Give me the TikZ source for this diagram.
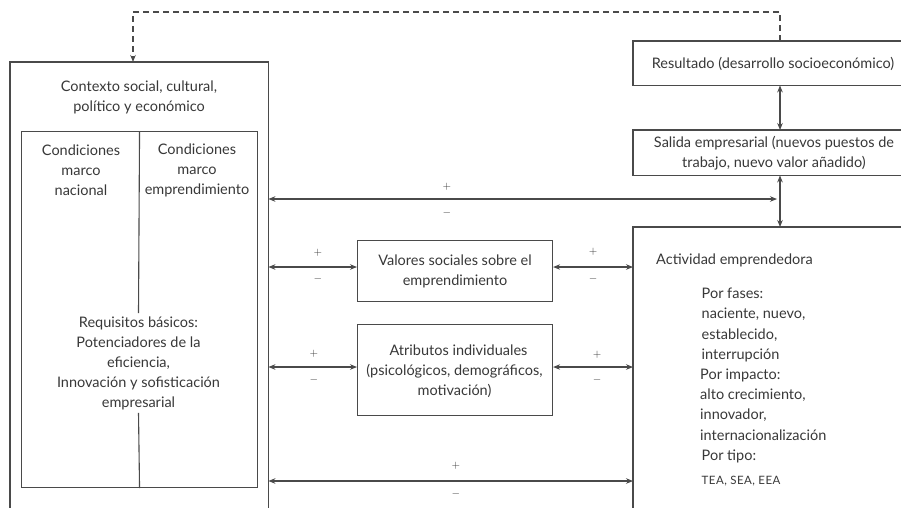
\documentclass[tikz,border=0pt]{standalone}
\usepackage{fontspec}
\setmainfont{Lato}
\usetikzlibrary{arrows.meta}
\definecolor{ink}{HTML}{383838}
\definecolor{linec}{HTML}{4A4A4A}

\begin{document}
\begin{tikzpicture}[x=1pt,y=-1pt,
  every node/.style={font=\fontsize{14.5}{20}\selectfont, text=ink, inner sep=0pt, align=center},
  border/.style={draw=linec, line width=1.1pt},
  tip/.tip={Stealth[length=7pt,width=5.5pt]},
  link/.style={border, tip-tip},
  area/.style={draw=none, anchor=north west},
  boxed/.style={border, anchor=north west},
  sign/.style={font=\fontsize{11}{13}\selectfont},
]
\path[fill=white] (0,0) rectangle (901,507);
\useasboundingbox (0,0) rectangle (901,507);

% Left block: context and framework conditions
\node[area, minimum width=258pt, minimum height=470pt] (outer) at (10,62) {};
\draw[border] (outer.south west) -- (outer.north west) -- (outer.north east) -- (outer.south east);
\node (ctx) at (139,97.5) {Contexto social, cultural,\\político y económico};
\node[boxed, minimum width=236pt, minimum height=356pt] (inner) at (21,131) {};
\node (cnac) at (81,170) {Condiciones\\marco\\nacional};
\node (cemp) at (197,170) {Condiciones\\marco\\emprendimiento};
\node[inner ysep=3pt] (req) at (138.5,363) {Requisitos básicos:\\Potenciadores de la\\eficiencia,\\Innovación y sofisticación\\empresarial};
\draw[border] (inner.north) -- (req.north);
\draw[border] (req.south) -- (inner.south);

% Right column: outcome, output and activity
\node[area, minimum width=280pt, minimum height=44pt] (res) at (633,41) {};
\draw[border] (res.north east) -- (res.north west) -- (res.south west) -- (res.south east);
\node (restxt) at (773,63.5) {Resultado (desarrollo socioeconómico)};

\node[area, minimum width=280pt, minimum height=45pt] (sal) at (633,130) {};
\draw[border] (sal.north east) -- (sal.north west) -- (sal.south west) -- (sal.south east);
\node (saltxt) at (774,153.5) {Salida empresarial (nuevos puestos de\\trabajo, nuevo valor añadido)};

\node[area, minimum width=280pt, minimum height=290pt] (act) at (633,227) {};
\draw[border] (act.north east) -- (act.north west) -- (act.south west);
\node[anchor=west] (acttxt) at (656,260) {Actividad emprendedora};
\node[anchor=north west, align=left, font=\fontsize{14.5}{20.2}\selectfont] (fases) at (700,288)
  {\hspace{1.5pt}Por fases:\\\hspace{1.5pt}naciente, nuevo,\\\hspace{1.5pt}establecido,\\\hspace{1.5pt}interrupción\\Por impacto:\\alto crecimiento,\\innovador,\\internacionalización\\\hspace{1.5pt}Por tipo:\\[4pt]\hspace{1.5pt}{\fontsize{11.5}{13}\selectfont\addfontfeature{LetterSpace=4}TEA, SEA, EEA}};

% Middle boxes
\node[boxed, minimum width=195pt, minimum height=61pt] (val) at (357,240) {};
\node (valtxt) at (val.center) {Valores sociales sobre el\\emprendimiento};
\node[boxed, minimum width=195pt, minimum height=91pt] (atr) at (357,324) {};
\node (atrtxt) at (454.5,371) {\hspace{8pt}Atributos individuales\\(psicológicos, demográficos,\\motivación)};

% Feedback loop
\coordinate (fbR) at (780,12);
\coordinate (fbL) at (133,12);
\draw[border, dash pattern=on 6pt off 4pt, -tip] (res.north -| fbR) -- (fbR) -- (fbL) -- (outer.north -| fbL);

% Vertical links
\draw[link] (res.south -| fbR) -- (sal.north -| fbR);
\draw[link] (sal.south -| fbR) -- (act.north -| fbR);

% Horizontal links
\coordinate (h1) at (777,199);
\draw[link] (outer.east |- h1) -- (h1);
\node[sign] (p1) at (447,187) {$+$};
\node[sign] (m1) at (447,213) {$-$};

\coordinate (h2) at (0,267);
\draw[link] (outer.east |- h2) -- (val.west |- h2);
\node[sign] (p2) at (318,253) {$+$};
\node[sign] (m2) at (318,279) {$-$};
\draw[link] (val.east |- h2) -- (act.west |- h2);
\node[sign] (p3) at (593,252) {$+$};
\node[sign] (m3) at (593,279) {$-$};

\coordinate (h3) at (0,367);
\draw[link] (outer.east |- h3) -- (atr.west |- h3);
\node[sign] (p4) at (314,354) {$+$};
\node[sign] (m4) at (314,380) {$-$};
\draw[link] (atr.east |- h3) -- (act.west |- h3);
\node[sign] (p5) at (597,355) {$+$};
\node[sign] (m5) at (597,380) {$-$};

\coordinate (h4) at (0,481);
\draw[link] (outer.east |- h4) -- (act.west |- h4);
\node[sign] (p6) at (456,466) {$+$};
\node[sign] (m6) at (456,494) {$-$};
\end{tikzpicture}
\end{document}
